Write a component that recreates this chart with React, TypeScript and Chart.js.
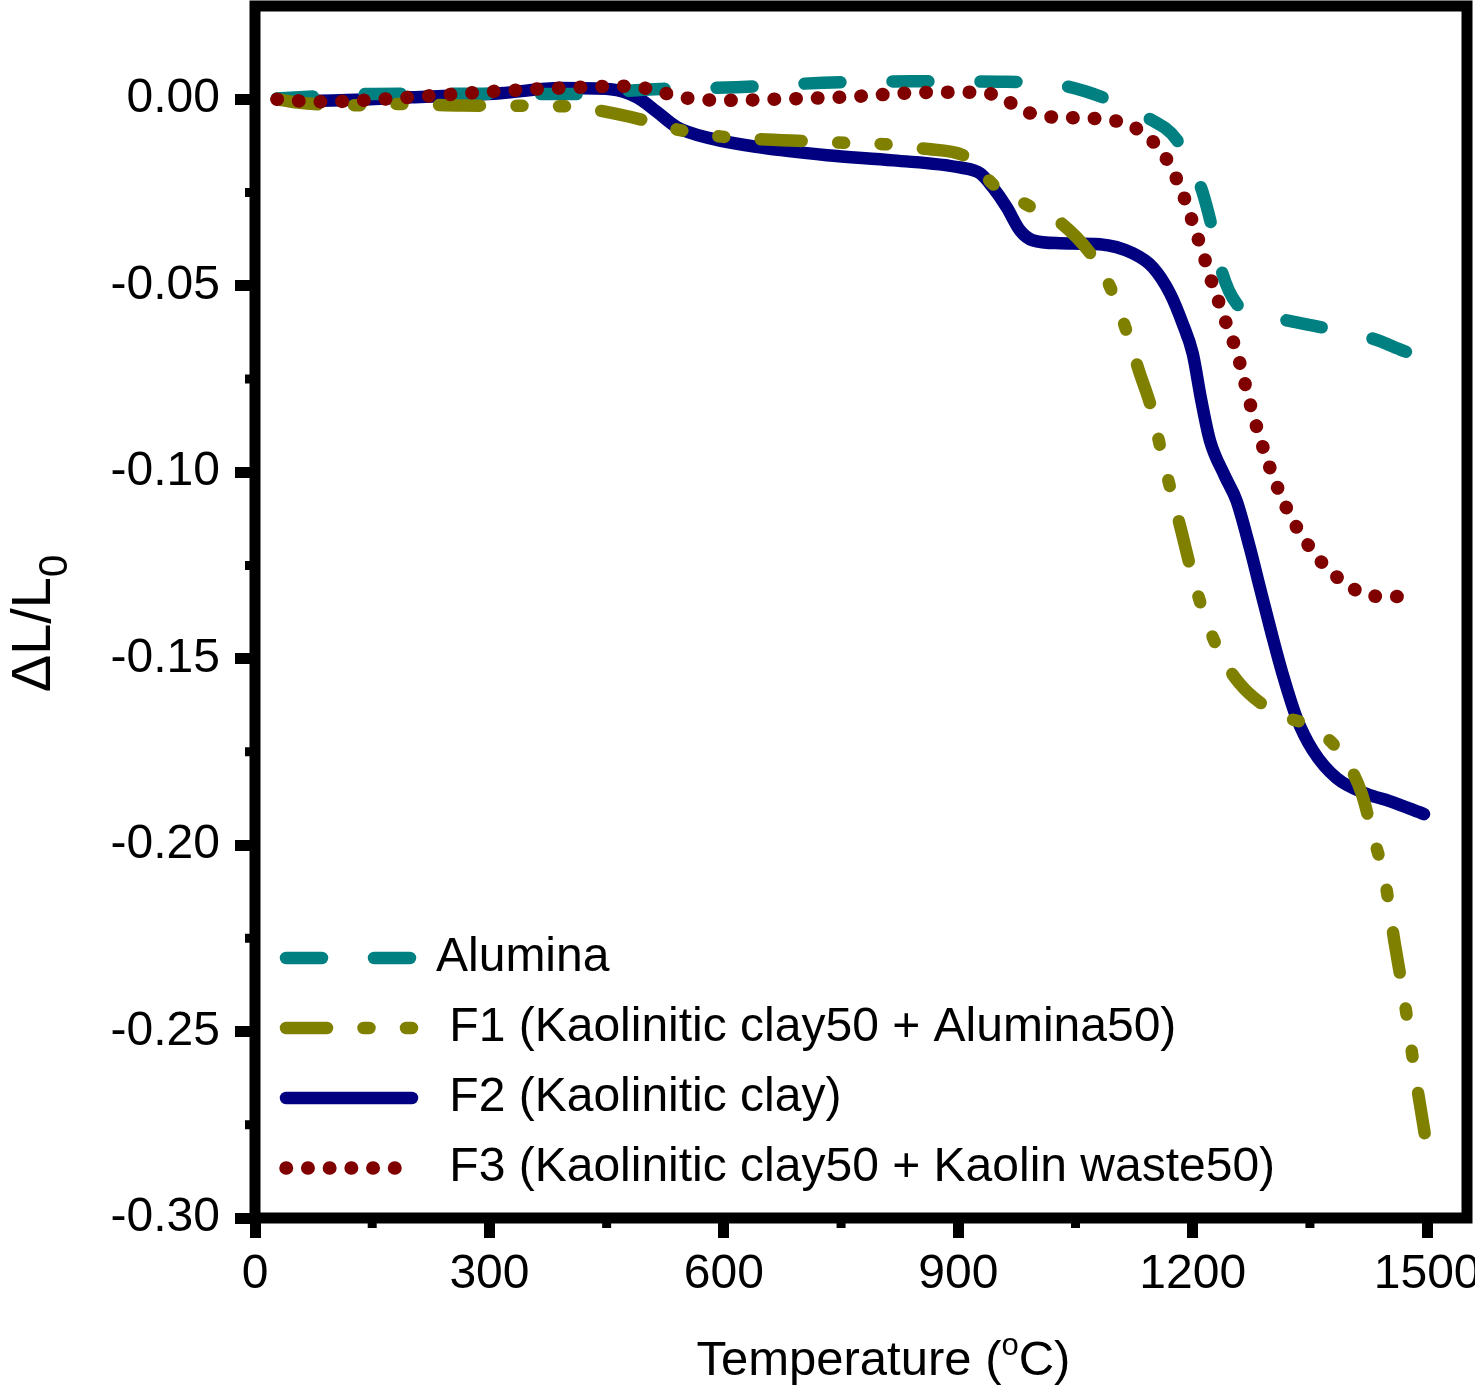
import React, { useEffect, useRef } from 'react';
import { Chart, registerables } from 'chart.js';

Chart.register(...registerables);

const FONT = "'Liberation Sans', Arial, Helvetica, sans-serif";

// ---------- data ----------
const seriesLabels = [
  'Alumina',
  ' F1 (Kaolinitic clay50 + Alumina50)',
  ' F2 (Kaolinitic clay)',
  ' F3 (Kaolinitic clay50 + Kaolin waste50)',
];

const aluminaT = [28, 150, 300, 403, 512, 616, 727, 841, 953, 1030, 1085, 1141, 1180, 1211, 1224, 1238, 1256, 1285, 1320, 1366, 1429, 1469, 1480];
const aluminaV = [0.0002, 0.0014, 0.0015, 0.0014, 0.0027, 0.0032, 0.0044, 0.0048, 0.0047, 0.0038, 0.0005, -0.0048, -0.011, -0.0239, -0.0338, -0.0467, -0.0548, -0.0578, -0.0593, -0.0612, -0.0641, -0.0674, -0.0683];

const f1T = [28, 54, 131, 186, 265, 398, 439, 503, 544, 600, 644, 713, 754, 810, 854, 912, 946, 994, 1032, 1078, 1099, 1117, 1131, 1148, 1160, 1173, 1186, 1199, 1213, 1232, 1260, 1309, 1354, 1392, 1416, 1430, 1446, 1458, 1471, 1484, 1497];
const f1V = [0, -0.0009, -0.0016, -0.0013, -0.0017, -0.0019, -0.003, -0.0059, -0.0083, -0.0101, -0.0107, -0.0113, -0.0117, -0.0121, -0.0132, -0.0156, -0.0231, -0.029, -0.0333, -0.044, -0.0526, -0.0633, -0.0727, -0.0835, -0.0947, -0.1057, -0.1162, -0.1272, -0.1371, -0.1473, -0.1567, -0.1648, -0.1685, -0.1761, -0.186, -0.197, -0.2096, -0.2257, -0.2418, -0.2606, -0.2775];

const f2T = [28, 84, 200, 314, 391, 455, 489, 515, 540, 583, 646, 732, 817, 902, 928, 944, 962, 979, 995, 1030, 1081, 1123, 1149, 1171, 1187, 1200, 1211, 1222, 1241, 1256, 1273, 1286, 1301, 1315, 1333, 1354, 1384, 1423, 1452, 1496];
const f2V = [0, -0.0004, 0.0005, 0.0016, 0.003, 0.0027, 0.0005, -0.0035, -0.0075, -0.0105, -0.0129, -0.015, -0.0164, -0.0183, -0.0199, -0.0236, -0.029, -0.0352, -0.0378, -0.0386, -0.0389, -0.0413, -0.0451, -0.0521, -0.0601, -0.0682, -0.0808, -0.0915, -0.101, -0.1076, -0.1202, -0.131, -0.1433, -0.1541, -0.1659, -0.1747, -0.182, -0.1863, -0.1882, -0.1917];

const f3T = [28, 84, 139, 195, 250, 305, 416, 471, 498, 525, 553, 608, 663, 718, 773, 828, 884, 911, 938, 963, 985, 1013, 1050, 1096, 1122, 1143, 1162, 1176, 1187, 1196, 1205, 1214, 1222, 1231, 1240, 1250, 1258, 1273, 1288, 1306, 1329, 1359, 1378, 1401, 1428, 1455, 1483];
const f3V = [0, -0.0007, -0.0003, 0.0005, 0.0013, 0.0021, 0.0032, 0.0035, 0.003, 0.0016, 0.0003, -0.0003, 0, 0.0003, 0.0008, 0.0016, 0.0019, 0.0019, 0.0016, -0.0005, -0.0032, -0.0046, -0.005, -0.0056, -0.0072, -0.0102, -0.0145, -0.0199, -0.0252, -0.0306, -0.0362, -0.0419, -0.0475, -0.0529, -0.0585, -0.0639, -0.069, -0.0813, -0.0921, -0.1028, -0.1133, -0.1227, -0.1269, -0.1307, -0.1331, -0.1334, -0.1329];

const xTickValues = [0, 300, 600, 900, 1200, 1500];
const xMinorValues = [150, 450, 750, 1050, 1350];
const yTickValues = [0, -0.05, -0.1, -0.15, -0.2, -0.25, -0.3];
const yMinorValues = [-0.025, -0.075, -0.125, -0.175, -0.225, -0.275];

const xTitleParts = ['Temperature (', 'o', 'C)'];
const yTitleParts = ['\u0394L/L', '0'];

const pts = (t: number[], v: number[]) => t.map((x, i) => ({ x, y: v[i] }));

// ---------- plugin: frame, minor ticks, axis titles ----------
const framePlugin = {
  id: 'frameAndTitles',
  afterLayout(chart: any) {
    const ca = chart.chartArea;
    const lg = chart.legend;
    if (lg) {
      lg.left = ca.left + 9;
      lg.top = ca.top;
      lg.bottom = ca.bottom - 4;
    }
  },
  afterDraw(chart: any) {
    const { ctx, chartArea: ca, scales } = chart;
    ctx.save();
    ctx.strokeStyle = '#000';
    ctx.lineWidth = 11;
    ctx.lineJoin = 'miter';
    ctx.strokeRect(ca.left, ca.top, ca.right - ca.left, ca.bottom - ca.top);

    ctx.lineWidth = 9;
    ctx.lineCap = 'butt';
    ctx.beginPath();
    xMinorValues.forEach((v) => {
      const px = scales.x.getPixelForValue(v);
      ctx.moveTo(px, ca.bottom);
      ctx.lineTo(px, ca.bottom + 10);
    });
    yMinorValues.forEach((v) => {
      const py = scales.y.getPixelForValue(v);
      ctx.moveTo(ca.left, py);
      ctx.lineTo(ca.left - 10, py);
    });
    ctx.stroke();

    // x title with superscript
    ctx.fillStyle = '#000';
    ctx.textAlign = 'left';
    ctx.textBaseline = 'alphabetic';
    const big = `49px ${FONT}`;
    const sup = `31px ${FONT}`;
    ctx.font = big;
    const w1 = ctx.measureText(xTitleParts[0]).width;
    const w3 = ctx.measureText(xTitleParts[2]).width;
    ctx.font = sup;
    const w2 = ctx.measureText(xTitleParts[1]).width;
    const cx = ca.left + (ca.right - ca.left) * 0.5185;
    let x = cx - (w1 + w2 + w3) / 2;
    const base = ca.bottom + 157;
    ctx.font = big;
    ctx.fillText(xTitleParts[0], x, base);
    x += w1;
    ctx.font = sup;
    ctx.fillText(xTitleParts[1], x, base - 20);
    x += w2;
    ctx.font = big;
    ctx.fillText(xTitleParts[2], x, base);

    // y title with subscript (rotated)
    const yBig = `56px ${FONT}`;
    const ySub = `40px ${FONT}`;
    ctx.font = yBig;
    const a1 = ctx.measureText(yTitleParts[0]).width;
    ctx.font = ySub;
    const a2 = ctx.measureText(yTitleParts[1]).width;
    ctx.translate(50, ca.top + (ca.bottom - ca.top) * 0.5095);
    ctx.rotate(-Math.PI / 2);
    let tx = -(a1 + a2) / 2;
    ctx.font = yBig;
    ctx.fillText(yTitleParts[0], tx, 0);
    tx += a1;
    ctx.font = ySub;
    ctx.fillText(yTitleParts[1], tx, 17);
    ctx.restore();
  },
};

export default function App() {
  const canvasRef = useRef<HTMLCanvasElement | null>(null);

  useEffect(() => {
    document.body.style.margin = '0';
    document.body.style.overflow = 'hidden';
    const canvas = canvasRef.current;
    if (!canvas) return;

    const tickFont = { family: FONT, size: 48 };
    const common = {
      grid: { display: true, drawOnChartArea: false, drawTicks: true, tickLength: 20, tickWidth: 11, tickColor: '#000' },
      border: { display: false },
    };

    const chart = new Chart(canvas, {
      type: 'line',
      data: {
        datasets: [
          {
            label: seriesLabels[0],
            data: pts(aluminaT, aluminaV),
            borderColor: '#008080',
            backgroundColor: '#008080',
            borderWidth: 12.5,
            borderDash: [36, 52],
            borderCapStyle: 'round',
            borderJoinStyle: 'round',
            cubicInterpolationMode: 'monotone',
            pointRadius: 0,
            fill: false,
            order: 2,
          },
          {
            label: seriesLabels[1],
            data: pts(f1T, f1V),
            borderColor: '#808000',
            backgroundColor: '#808000',
            borderWidth: 12.5,
            borderDash: [41, 36.5, 6, 36.5, 6, 36.5],
            borderCapStyle: 'round',
            borderJoinStyle: 'round',
            cubicInterpolationMode: 'monotone',
            pointRadius: 0,
            fill: false,
            order: 1,
          },
          {
            label: seriesLabels[2],
            data: pts(f2T, f2V),
            borderColor: '#000080',
            backgroundColor: '#000080',
            borderWidth: 12.5,
            borderDash: [],
            borderCapStyle: 'round',
            borderJoinStyle: 'round',
            cubicInterpolationMode: 'monotone',
            pointRadius: 0,
            fill: false,
            order: 3,
          },
          {
            label: seriesLabels[3],
            data: pts(f3T, f3V),
            borderColor: '#800000',
            backgroundColor: '#800000',
            borderWidth: 13.5,
            borderDash: [0.5, 21.2],
            borderCapStyle: 'round',
            borderJoinStyle: 'round',
            cubicInterpolationMode: 'monotone',
            pointRadius: 0,
            fill: false,
            order: 0,
          },
        ] as any,
      },
      options: {
        responsive: false,
        animation: false,
        events: [],
        layout: { padding: { top: 6, right: 8, left: 0, bottom: 0 }, autoPadding: false },
        elements: { point: { radius: 0, hoverRadius: 0 } },
        scales: {
          x: {
            type: 'linear',
            min: 0,
            max: 1551,
            position: 'bottom',
            afterBuildTicks: (s: any) => {
              s.ticks = xTickValues.map((v) => ({ value: v }));
            },
            ticks: {
              font: tickFont,
              color: '#000',
              padding: 8,
              maxRotation: 0,
              autoSkip: false,
              callback: (v: any) => String(v),
            },
            ...common,
            afterFit: (s: any) => {
              s.height = 168;
              s.paddingLeft = 0;
              s.paddingRight = 0;
              s.paddingTop = 0;
              s.paddingBottom = 0;
            },
          },
          y: {
            type: 'linear',
            min: -0.3,
            max: 0.025,
            position: 'left',
            afterBuildTicks: (s: any) => {
              s.ticks = yTickValues.map((v) => ({ value: v }));
            },
            ticks: {
              font: tickFont,
              color: '#000',
              padding: 15,
              autoSkip: false,
              callback: (v: any) => {
                const n = Number(v);
                return Math.abs(n) < 1e-9 ? '0.00' : n.toFixed(2);
              },
            },
            ...common,
            afterFit: (s: any) => {
              s.width = 255;
              s.paddingLeft = 0;
              s.paddingRight = 0;
              s.paddingTop = 0;
              s.paddingBottom = 0;
            },
          },
        } as any,
        plugins: {
          tooltip: { enabled: false },
          title: { display: false },
          legend: {
            display: true,
            position: 'chartArea' as any,
            align: 'end',
            labels: {
              usePointStyle: true,
              pointStyle: 'line',
              pointStyleWidth: 126,
              boxHeight: 48,
              padding: 22,
              color: '#000',
              font: { family: FONT, size: 48 },
              generateLabels: (c: any) =>
                c.data.datasets.map((ds: any, i: number) => ({
                  text: ds.label,
                  strokeStyle: ds.borderColor,
                  fillStyle: 'rgba(0,0,0,0)',
                  lineWidth: ds.borderWidth,
                  lineDash: ds.borderDash || [],
                  lineCap: 'round',
                  lineJoin: 'round',
                  pointStyle: 'line',
                  hidden: false,
                  datasetIndex: i,
                  fontColor: '#000',
                })),
            },
          },
        },
      } as any,
      plugins: [framePlugin],
    });

    return () => {
      chart.destroy();
    };
  }, []);

  return (
    <div style={{ position: 'absolute', left: 0, top: 0, width: 1475, height: 1386, background: '#fff' }}>
      <canvas ref={canvasRef} width={1475} height={1386} style={{ display: 'block' }} />
    </div>
  );
}
